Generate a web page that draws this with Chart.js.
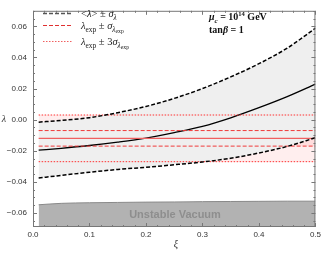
<!DOCTYPE html>
<html>
<head>
<meta charset="utf-8">
<script src="https://cdn.jsdelivr.net/npm/chart.js@4.4.1/dist/chart.umd.min.js"></script>
<style>
  html, body { margin: 0; padding: 0; background: #fff; }
  #wrap { width: 324px; height: 255px; position: relative; }
</style>
</head>
<body>
<div id="wrap"><canvas id="chart" width="324" height="255"></canvas></div>
<script>
// --- data ---
const xi        = [0.01, 0.05, 0.1, 0.15, 0.2, 0.25, 0.3, 0.35, 0.4, 0.45, 0.5];
const lamMean   = [-0.0196, -0.0184, -0.0166, -0.0144, -0.0118, -0.0083, -0.0043, 0.0012, 0.0077, 0.0148, 0.0228];
const lamUpper  = [-0.0016, -0.0005, 0.0013, 0.0045, 0.0085, 0.0137, 0.0200, 0.0275, 0.0360, 0.0460, 0.0588];
const lamLower  = [-0.0375, -0.0358, -0.0338, -0.0320, -0.0306, -0.0290, -0.0272, -0.0248, -0.0214, -0.0172, -0.0116];
const vacuumTop = [-0.0547, -0.0538, -0.0534, -0.0532, -0.0530, -0.0529, -0.0527, -0.0526, -0.0525, -0.0524, -0.0524];

const lamExp     = -0.012;   // central experimental value
const sigmaExp   = 0.005;
const hLineX     = [0.01, 0.5];

const xTicks = [0, 0.1, 0.2, 0.3, 0.4, 0.5];
const yTicks = [-0.06, -0.04, -0.02, 0, 0.02, 0.04, 0.06];

const pts  = ys => xi.map((x, i) => ({ x, y: ys[i] }));
const flat = y  => hLineX.map(x => ({ x, y }));

const minus = s => s.replace('-', '\u2212');

// --- frame, inward ticks, texts ---
const decor = {
  id: 'decor',
  afterDraw(chart) {
    const { ctx, chartArea: a, scales: { x, y } } = chart;
    ctx.save();
    ctx.strokeStyle = '#777';
    ctx.lineWidth = 1;
    ctx.strokeRect(a.left + 0.5, a.top + 0.5, a.right - a.left - 1, a.bottom - a.top - 1);

    ctx.beginPath();
    for (let v = 0; v <= 0.5001; v += 0.02) {
      const px = Math.round(x.getPixelForValue(v)) + 0.5;
      const major = xTicks.some(t => Math.abs(t - v) < 1e-6);
      const len = major ? 4 : 2;
      ctx.moveTo(px, a.bottom); ctx.lineTo(px, a.bottom - len);
      ctx.moveTo(px, a.top);    ctx.lineTo(px, a.top + len);
    }
    for (let v = -0.065; v <= 0.0701; v += 0.005) {
      const py = Math.round(y.getPixelForValue(v)) + 0.5;
      const major = yTicks.some(t => Math.abs(t - v) < 1e-6);
      const len = major ? 4 : 2;
      ctx.moveTo(a.left, py);  ctx.lineTo(a.left + len, py);
      ctx.moveTo(a.right, py); ctx.lineTo(a.right - len, py);
    }
    ctx.stroke();

    // axis titles
    ctx.fillStyle = '#333';
    ctx.font = 'italic 10px "Liberation Serif"';
    ctx.textAlign = 'center';
    ctx.textBaseline = 'middle';
    ctx.fillText('\u03bb', 4, y.getPixelForValue(0));
    ctx.fillText('\u03be', 176, 244);

    // unstable vacuum label
    ctx.fillStyle = '#8e8e8e';
    ctx.font = 'bold 11px "Liberation Sans"';
    ctx.fillText('Unstable Vacuum', 175, 215);

    // parameter box
    ctx.fillStyle = '#111';
    ctx.textAlign = 'left';
    ctx.textBaseline = 'alphabetic';
    rich(ctx, 209, 20, [
      { t: '\u03bc', i: 1 }, { t: 'c', i: 1, sub: 1 }, { t: ' = 10' }, { t: '14', sup: 1 }, { t: ' GeV' }
    ], 10, true);
    rich(ctx, 209, 33, [{ t: 'tan' }, { t: '\u03b2', i: 1 }, { t: ' = 1' }], 10, true);

    // legend
    const rows = [
      { y: 13, color: '#555', dash: [4, 2], w: 1.5, parts: [
        { t: '<' }, { t: '\u03bb', i: 1 }, { t: '> \u00b1 ' }, { t: '\u03c3', i: 1 }, { t: '\u03bb', i: 1, sub: 1 }] },
      { y: 25, color: '#e03030', dash: [4, 2], w: 1, parts: [
        { t: '\u03bb', i: 1 }, { t: 'exp', sub: 1 }, { t: ' \u00b1 ' }, { t: '\u03c3', i: 1 }, { t: '\u03bb', i: 1, sub: 1 }, { t: 'exp', sub: 2 }] },
      { y: 41, color: '#f06060', dash: [1.5, 1.5], w: 1, parts: [
        { t: '\u03bb', i: 1 }, { t: 'exp', sub: 1 }, { t: ' \u00b1 3' }, { t: '\u03c3', i: 1 }, { t: '\u03bb', i: 1, sub: 1 }, { t: 'exp', sub: 2 }] },
    ];
    rows.forEach(r => {
      ctx.strokeStyle = r.color;
      ctx.lineWidth = r.w;
      ctx.setLineDash(r.dash);
      ctx.beginPath();
      ctx.moveTo(43, r.y + 0.5); ctx.lineTo(72, r.y + 0.5);
      ctx.stroke();
      ctx.setLineDash([]);
      ctx.fillStyle = '#222';
      rich(ctx, 81, r.y + 3.5, r.parts, 10.5, false);
    });
    ctx.restore();
  }
};

function rich(ctx, x, y, parts, size, bold) {
  let cx = x;
  parts.forEach(p => {
    let fs = size, dy = 0;
    if (p.sub === 1) { fs = size * 0.7; dy = size * 0.3; }
    if (p.sub === 2) { fs = size * 0.55; dy = size * 0.45; }
    if (p.sup) { fs = size * 0.65; dy = -size * 0.4; }
    ctx.font = (p.i ? 'italic ' : '') + (bold ? 'bold ' : '') + fs + 'px "Liberation Serif"';
    ctx.fillText(p.t, cx, y + dy);
    cx += ctx.measureText(p.t).width;
  });
}

const base = { pointRadius: 0, tension: 0.4, cubicInterpolationMode: 'monotone', fill: false };

new Chart(document.getElementById('chart'), {
  type: 'line',
  data: {
    datasets: [
      { ...base, data: pts(vacuumTop), borderColor: '#8a8a8a', borderWidth: 1,
        backgroundColor: '#b2b2b2', fill: 'start' },
      { ...base, data: pts(lamLower), borderColor: '#000', borderWidth: 1.5, borderDash: [4, 2] },
      { ...base, data: pts(lamUpper), borderColor: '#000', borderWidth: 1.5, borderDash: [4, 2],
        backgroundColor: '#efefef', fill: '-1' },
      { ...base, data: flat(lamExp + 3 * sigmaExp), borderColor: '#ff3030', borderWidth: 1, borderDash: [1.5, 1.5],
        backgroundColor: 'rgba(255,70,70,0.09)', fill: '+1' },
      { ...base, data: flat(lamExp - 3 * sigmaExp), borderColor: '#ff3030', borderWidth: 1, borderDash: [1.5, 1.5] },
      { ...base, data: flat(lamExp + sigmaExp), borderColor: '#f03a3a', borderWidth: 1, borderDash: [4, 2],
        backgroundColor: 'rgba(255,70,70,0.1)', fill: '+1' },
      { ...base, data: flat(lamExp - sigmaExp), borderColor: '#f03a3a', borderWidth: 1, borderDash: [4, 2] },
      { ...base, data: flat(lamExp), borderColor: '#f06060', borderWidth: 1.2 },
      { ...base, data: pts(lamMean), borderColor: '#000', borderWidth: 1.3 },
    ]
  },
  options: {
    responsive: false,
    animation: false,
    layout: { padding: { top: 1, right: 7, left: 0, bottom: 0 } },
    plugins: {
      legend: { display: false },
      tooltip: { enabled: false },
      filler: { drawTime: 'beforeDatasetsDraw' }
    },
    scales: {
      x: {
        type: 'linear', min: 0, max: 0.5,
        grid: { display: false, drawTicks: false, tickLength: 0 }, border: { display: false },
        afterBuildTicks: s => { s.ticks = xTicks.map(v => ({ value: v })); },
        afterFit: s => { s.height = 28; },
        ticks: { padding: 3, color: '#333', font: { family: 'Liberation Sans', size: 8 },
                 maxRotation: 0, callback: v => v.toFixed(1) }
      },
      y: {
        type: 'linear', min: -0.069, max: 0.070,
        grid: { display: false, drawTicks: false, tickLength: 0 }, border: { display: false },
        afterBuildTicks: s => { s.ticks = yTicks.map(v => ({ value: v })); },
        afterFit: s => { s.width = 33; },
        ticks: { padding: 6, color: '#333', font: { family: 'Liberation Sans', size: 8 },
                 callback: v => minus(v.toFixed(2)) }
      }
    }
  },
  plugins: [decor]
});
</script>
</body>
</html>
